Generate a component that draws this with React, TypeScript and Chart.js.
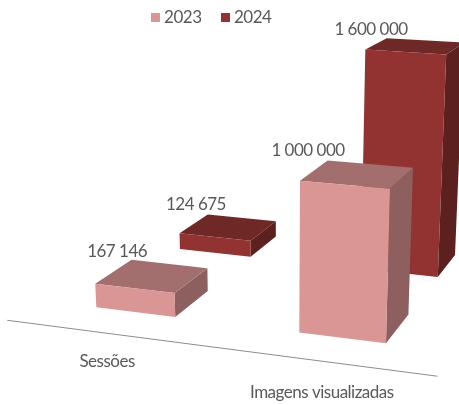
import React, { useEffect, useRef } from "react";
import { Chart, registerables } from "chart.js";

Chart.register(...registerables);

const categories = ["Sessões", "Imagens visualizadas"];
const seriesNames = ["2023", "2024"];
const values2023 = [167146, 1000000];
const values2024 = [124675, 1600000];

const FONT = "Lato";
const TEXT = "#595959";
const FONT_SIZE = 17;
const TRACKING = "-0.5px";

const FACES: Record<string, { front: string; top: string; side: string }> = {
  "2023": { front: "#D99694", top: "#A36F6E", side: "#8D605F" },
  "2024": { front: "#923331", top: "#6E2826", side: "#5C201E" },
};

// Excel-style 3D column geometry: gap width and gap depth are both 150 %.
const BAR_DEPTH = 1;
const ROW_SPACING = 2.5;
const CATEGORY_UNITS = 2.5;
const FLOOR_FRONT = -0.75;
const LABEL_ROW = -1.65;
// Where each value label sits relative to the back-left top corner of its bar
const LABEL_SHIFT = [
  [[-14.4, -8], [-19.6, -9.6]],
  [[-11.8, -10.4], [-15.7, -9.2]],
];

// Camera matrix (u: width, v: depth, h: value in millions)
function project(u: number, v: number, h: number): [number, number] {
  const w = 1 - 0.01824 * u + 0.05449 * v - 0.0336 * h;
  return [
    (75.73 * u + 43.25 * v - 9.35 * h + 96.3) / w,
    (4.023 * u - 9.723 * v - 151 * h + 307.3) / w,
  ];
}

function poly(ctx: CanvasRenderingContext2D, pts: [number, number][], color: string) {
  ctx.beginPath();
  pts.forEach((p, i) => (i ? ctx.lineTo(p[0], p[1]) : ctx.moveTo(p[0], p[1])));
  ctx.closePath();
  ctx.fillStyle = color;
  ctx.fill();
}

const formatValue = (n: number) => String(n).replace(/\B(?=(\d{3})+$)/g, " ");

function worldU(chart: any, px: number) {
  const area = chart.chartArea;
  const unit = (area.right - area.left) / (categories.length * CATEGORY_UNITS);
  return (px - area.left) / unit - (CATEGORY_UNITS - BAR_DEPTH) / 2;
}

const bars3d = {
  id: "bars3d",
  beforeLayout(chart: any) {
    chart.ctx.letterSpacing = TRACKING;
  },
  beforeDatasetsDraw(chart: any) {
    const { ctx, scales } = chart;
    const x = scales.x;
    const uStart = worldU(chart, chart.chartArea.left);
    const uEnd = worldU(chart, chart.chartArea.right);
    const a = project(uStart, FLOOR_FRONT, 0);
    const b = project(uEnd, FLOOR_FRONT, 0);
    ctx.save();
    ctx.strokeStyle = "#8C8C8C";
    ctx.lineWidth = 1;
    ctx.beginPath();
    ctx.moveTo(a[0], a[1]);
    ctx.lineTo(b[0], b[1]);
    ctx.stroke();
    ctx.fillStyle = TEXT;
    ctx.font = `${FONT_SIZE}px ${FONT}`;
    ctx.textAlign = "center";
    ctx.textBaseline = "middle";
    categories.forEach((label, i) => {
      const u = worldU(chart, x.getPixelForValue(i));
      ctx.fillText(label, project(u, FLOOR_FRONT, 0)[0], project(u, LABEL_ROW, 0)[1]);
    });
    ctx.restore();
  },
  beforeDatasetDraw(chart: any, args: any) {
    const { ctx, scales } = chart;
    const ds = chart.data.datasets[args.index];
    const faces = FACES[ds.label];
    const v0 = args.index * ROW_SPACING;
    const v1 = v0 + BAR_DEPTH;
    ctx.save();
    args.meta.data.forEach((el: any, i: number) => {
      const { x, y, width } = el.getProps(["x", "y", "width"], true);
      const u0 = worldU(chart, x - width / 2);
      const u1 = worldU(chart, x + width / 2);
      const h = scales.y.getValueForPixel(y) / 1e6;
      poly(ctx, [project(u1, v0, 0), project(u1, v1, 0), project(u1, v1, h), project(u1, v0, h)], faces.side);
      poly(ctx, [project(u0, v0, h), project(u1, v0, h), project(u1, v1, h), project(u0, v1, h)], faces.top);
      poly(ctx, [project(u0, v0, 0), project(u1, v0, 0), project(u1, v0, h), project(u0, v0, h)], faces.front);
      const anchor = project(u0, v1, h);
      const shift = LABEL_SHIFT[args.index][i];
      ctx.fillStyle = TEXT;
      ctx.font = `${FONT_SIZE}px ${FONT}`;
      ctx.textAlign = "center";
      ctx.textBaseline = "middle";
      ctx.fillText(formatValue(ds.data[i]), anchor[0] + shift[0], anchor[1] + shift[1]);
    });
    ctx.restore();
    return false;
  },
};

function swatch(color: string) {
  const c = document.createElement("canvas");
  c.width = 9;
  c.height = 9;
  const g = c.getContext("2d")!;
  g.fillStyle = color;
  g.fillRect(0, 0, 9, 9);
  return c;
}

export default function App() {
  const ref = useRef<HTMLCanvasElement>(null);
  useEffect(() => {
    document.body.style.margin = "0";
    const chart = new Chart(ref.current!, {
      type: "bar",
      data: {
        labels: categories,
        datasets: [
          { label: seriesNames[0], data: values2023, backgroundColor: FACES["2023"].front, grouped: false },
          { label: seriesNames[1], data: values2024, backgroundColor: FACES["2024"].front, grouped: false },
        ],
      },
      options: {
        responsive: false,
        animation: false,
        events: [],
        categoryPercentage: BAR_DEPTH / CATEGORY_UNITS,
        barPercentage: 1,
        layout: { padding: { right: 33, top: -14 } },
        scales: {
          x: { display: false },
          y: { display: false, min: 0, max: 2000000 },
        },
        plugins: {
          tooltip: { enabled: false },
          legend: {
            position: "top",
            labels: {
              usePointStyle: true,
              boxWidth: 1,
              padding: 23,
              color: TEXT,
              font: { family: FONT, size: FONT_SIZE },
              generateLabels(c: any) {
                return Chart.defaults.plugins.legend.labels.generateLabels(c).map((item: any) => ({
                  ...item,
                  pointStyle: swatch(c.data.datasets[item.datasetIndex].backgroundColor),
                }));
              },
            },
          },
        },
      } as any,
      plugins: [bars3d],
    });
    return () => chart.destroy();
  }, []);
  return (
    <canvas
      ref={ref}
      width={459}
      height={405}
      style={{ position: "absolute", left: 0, top: 0, display: "block", width: 459, height: 405 }}
    />
  );
}
